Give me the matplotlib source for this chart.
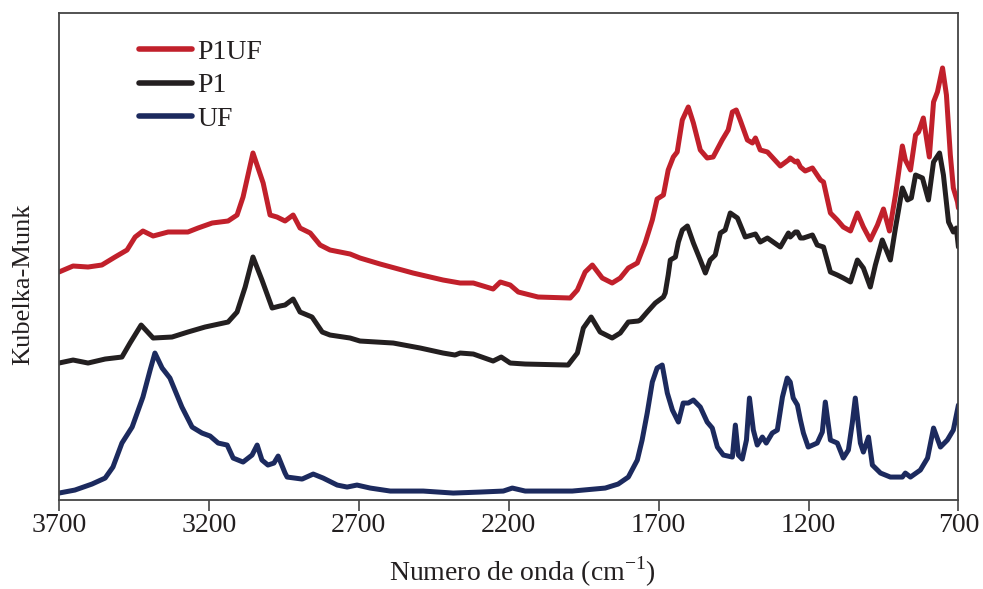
import matplotlib
matplotlib.use("Agg")
import matplotlib.pyplot as plt
import numpy as np

plt.rcParams["font.family"] = ["Liberation Serif", "DejaVu Serif"]

# Espectros DRIFT (Kubelka-Munk, unidades arbitrarias) leídos por número de onda
P1UF_WN = [3700, 3653, 3603, 3557, 3513, 3473, 3446, 3420, 3386, 3336, 3270, 3236, 3189,
           3136, 3106, 3086, 3053, 3019, 2996, 2973, 2946, 2919, 2896, 2862, 2829, 2796,
           2729, 2696, 2629, 2519, 2419, 2362, 2318, 2252, 2228, 2195, 2168, 2102, 1995,
           1971, 1945, 1921, 1888, 1855, 1828, 1801, 1771, 1745, 1721, 1705, 1684, 1668,
           1651, 1638, 1621, 1601, 1584, 1561, 1538, 1518, 1488, 1468, 1454, 1441, 1428,
           1404, 1387, 1377, 1361, 1337, 1294, 1267, 1261, 1244, 1237, 1227, 1211, 1187,
           1160, 1150, 1127, 1104, 1084, 1060, 1037, 1017, 994, 970, 950, 930, 910, 887,
           877, 860, 843, 833, 817, 797, 783, 770, 753, 740, 727, 717, 703, 700]
P1UF_KM = [2.28, 2.34, 2.33, 2.35, 2.43, 2.50, 2.63, 2.69, 2.64, 2.68, 2.68, 2.72, 2.77,
           2.79, 2.85, 3.03, 3.47, 3.17, 2.85, 2.83, 2.79, 2.85, 2.72, 2.67, 2.55, 2.50,
           2.46, 2.42, 2.36, 2.27, 2.20, 2.17, 2.17, 2.11, 2.18, 2.15, 2.08, 2.03, 2.02,
           2.10, 2.28, 2.35, 2.22, 2.17, 2.22, 2.32, 2.37, 2.57, 2.80, 3.01, 3.05, 3.30,
           3.43, 3.48, 3.80, 3.93, 3.77, 3.50, 3.42, 3.43, 3.60, 3.70, 3.88, 3.90, 3.80,
           3.60, 3.57, 3.62, 3.50, 3.48, 3.34, 3.40, 3.42, 3.38, 3.39, 3.33, 3.29, 3.32,
           3.20, 3.18, 2.87, 2.80, 2.73, 2.69, 2.87, 2.73, 2.60, 2.75, 2.91, 2.69, 3.05, 3.54,
           3.40, 3.30, 3.65, 3.68, 3.82, 3.43, 3.98, 4.08, 4.32, 4.05, 3.45, 3.12, 2.98, 2.92]

P1_WN = [3700, 3653, 3603, 3546, 3490, 3463, 3426, 3386, 3323, 3270, 3213, 3136, 3106,
         3079, 3053, 3023, 2989, 2963, 2946, 2919, 2896, 2856, 2822, 2796, 2729, 2696,
         2585, 2495, 2419, 2379, 2362, 2318, 2252, 2225, 2195, 2145, 2002, 1971, 1951,
         1925, 1895, 1855, 1828, 1801, 1768, 1761, 1738, 1711, 1684, 1678, 1668, 1661,
         1644, 1634, 1621, 1604, 1584, 1561, 1544, 1528, 1511, 1494, 1478, 1461, 1437,
         1411, 1377, 1361, 1337, 1294, 1267, 1261, 1244, 1237, 1227, 1217, 1187, 1171,
         1150, 1127, 1104, 1084, 1060, 1037, 1017, 994, 977, 954, 927, 910, 887, 870,
         857, 843, 820, 800, 783, 763, 750, 733, 717, 707, 700]
P1_KM = [1.37, 1.40, 1.37, 1.41, 1.43, 1.57, 1.75, 1.62, 1.63, 1.68, 1.73, 1.78, 1.88,
         2.13, 2.43, 2.20, 1.92, 1.94, 1.95, 2.01, 1.88, 1.83, 1.68, 1.65, 1.62, 1.59,
         1.57, 1.52, 1.47, 1.45, 1.47, 1.46, 1.39, 1.43, 1.37, 1.36, 1.35, 1.47, 1.72,
         1.83, 1.68, 1.62, 1.67, 1.78, 1.79, 1.80, 1.88, 1.97, 2.03, 2.07, 2.25, 2.40,
         2.43, 2.58, 2.70, 2.74, 2.57, 2.40, 2.27, 2.40, 2.45, 2.67, 2.70, 2.87, 2.82,
         2.63, 2.66, 2.58, 2.62, 2.53, 2.67, 2.63, 2.68, 2.68, 2.62, 2.62, 2.65, 2.55,
         2.53, 2.28, 2.25, 2.22, 2.18, 2.40, 2.32, 2.13, 2.35, 2.60, 2.40, 2.72, 3.12, 3.00,
         3.02, 3.25, 3.22, 3.00, 3.38, 3.47, 3.25, 2.78, 2.68, 2.72, 2.53]

UF_WN = [3700, 3647, 3590, 3546, 3520, 3490, 3456, 3420, 3396, 3380, 3356, 3330, 3290,
         3256, 3223, 3196, 3169, 3139, 3119, 3086, 3056, 3039, 3023, 3003, 2983, 2969,
         2946, 2939, 2889, 2852, 2819, 2772, 2739, 2706, 2662, 2595, 2485, 2385, 2295,
         2218, 2188, 2145, 1988, 1878, 1835, 1801, 1771, 1755, 1738, 1721, 1705, 1688,
         1671, 1654, 1634, 1618, 1601, 1584, 1561, 1538, 1521, 1504, 1484, 1454, 1444,
         1434, 1421, 1407, 1397, 1384, 1371, 1354, 1341, 1321, 1304, 1287, 1271, 1261,
         1251, 1237, 1227, 1217, 1201, 1171, 1154, 1144, 1127, 1104, 1084, 1067, 1054,
         1044, 1027, 1017, 1000, 987, 960, 927, 887, 877, 860, 827, 803, 783, 760, 737,
         717, 700]
UF_KM = [0.07, 0.10, 0.16, 0.22, 0.33, 0.57, 0.73, 1.03, 1.30, 1.47, 1.32, 1.22, 0.93,
         0.73, 0.67, 0.64, 0.57, 0.55, 0.42, 0.38, 0.45, 0.55, 0.40, 0.35, 0.37, 0.44,
         0.27, 0.23, 0.21, 0.26, 0.22, 0.15, 0.13, 0.15, 0.12, 0.09, 0.09, 0.07, 0.08,
         0.09, 0.12, 0.09, 0.09, 0.12, 0.16, 0.23, 0.40, 0.60, 0.87, 1.18, 1.32, 1.35,
         1.07, 0.90, 0.78, 0.97, 0.97, 1.00, 0.93, 0.78, 0.72, 0.53, 0.45, 0.43, 0.75,
         0.45, 0.41, 0.60, 1.02, 0.70, 0.55, 0.63, 0.57, 0.67, 0.70, 1.03, 1.22, 1.18,
         1.02, 0.95, 0.80, 0.67, 0.53, 0.57, 0.68, 0.98, 0.60, 0.57, 0.42, 0.50, 0.77,
         1.02, 0.57, 0.48, 0.63, 0.35, 0.27, 0.23, 0.23, 0.27, 0.23, 0.30, 0.42, 0.72, 0.53,
         0.60, 0.70, 0.95]

SERIES = [
    ("P1UF", P1UF_WN, P1UF_KM, "#c1202b"),
    ("P1", P1_WN, P1_KM, "#231f20"),
    ("UF", UF_WN, UF_KM, "#1c2a5e"),
]

fig = plt.figure(figsize=(9.83, 5.89), dpi=100)
ax = fig.add_axes([0.060, 0.151, 0.915, 0.827])

for name, wn, km, color in SERIES:
    ax.plot(wn, km, color=color, lw=3.6, solid_joinstyle="round",
            solid_capstyle="round", label=name)

ax.set_xlim(3700, 700)
ax.set_ylim(0, 4.87)
ax.set_xticks(np.arange(3700, 699, -500))
ax.set_yticks([])
ax.tick_params(axis="x", direction="out", length=8, width=1.2, color="#444444",
               labelsize=20, pad=1.5, labelcolor="#231f20")
for sp in ax.spines.values():
    sp.set_color("#444444")
    sp.set_linewidth(1.3)

ax.set_xlabel("Numero de onda (cm$^{\\mathregular{-1}}$)", fontsize=20,
              color="#231f20")
ax.xaxis.set_label_coords(0.515, -0.112)
ax.set_ylabel("Kubelka-Munk", fontsize=19, color="#231f20")
ax.yaxis.set_label_coords(-0.027, 0.4435)

leg = ax.legend(loc="upper left", bbox_to_anchor=(0.077, 0.968), frameon=False,
                fontsize=20, handlelength=1.9, handletextpad=0.2,
                labelspacing=0.28, borderaxespad=0)
for line in leg.get_lines():
    line.set_linewidth(4.0)
for txt in leg.get_texts():
    txt.set_color("#231f20")

fig.savefig("out.png", dpi=100)
